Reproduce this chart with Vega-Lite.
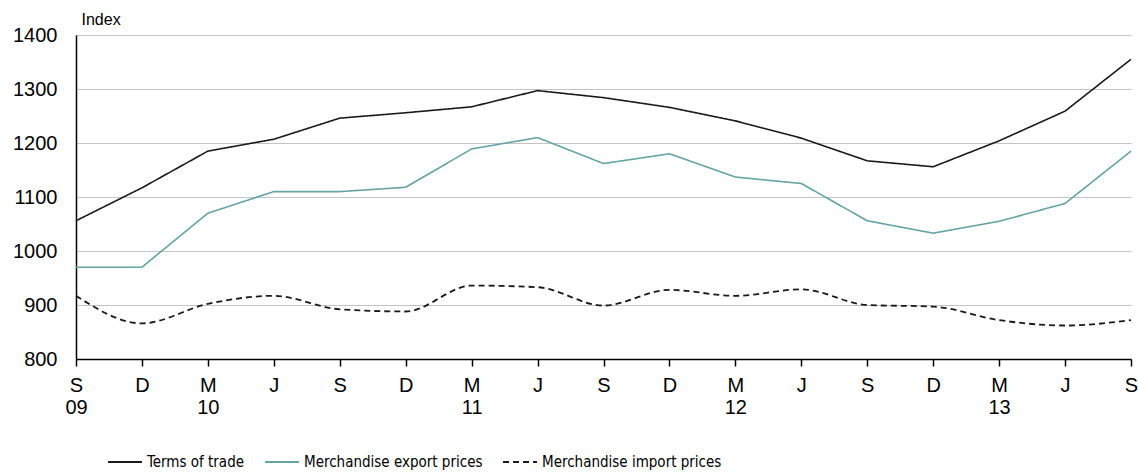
{
  "$schema": "https://vega.github.io/schema/vega-lite/v6.json",
  "width": 1055,
  "height": 324,
  "autosize": "none",
  "padding": {"left": 76, "top": 35, "right": 7, "bottom": 116},
  "background": "white",
  "config": {
    "view": {"stroke": null},
    "font": "Liberation Sans"
  },
  "data": {
    "values": [
      {"date": "2009-09", "series": "Terms of trade", "value": 1056},
      {"date": "2009-12", "series": "Terms of trade", "value": 1117},
      {"date": "2010-03", "series": "Terms of trade", "value": 1185},
      {"date": "2010-06", "series": "Terms of trade", "value": 1207},
      {"date": "2010-09", "series": "Terms of trade", "value": 1246},
      {"date": "2010-12", "series": "Terms of trade", "value": 1256},
      {"date": "2011-03", "series": "Terms of trade", "value": 1267},
      {"date": "2011-06", "series": "Terms of trade", "value": 1297},
      {"date": "2011-09", "series": "Terms of trade", "value": 1284},
      {"date": "2011-12", "series": "Terms of trade", "value": 1266},
      {"date": "2012-03", "series": "Terms of trade", "value": 1241},
      {"date": "2012-06", "series": "Terms of trade", "value": 1209},
      {"date": "2012-09", "series": "Terms of trade", "value": 1167},
      {"date": "2012-12", "series": "Terms of trade", "value": 1156},
      {"date": "2013-03", "series": "Terms of trade", "value": 1204},
      {"date": "2013-06", "series": "Terms of trade", "value": 1259},
      {"date": "2013-09", "series": "Terms of trade", "value": 1355},
      {"date": "2009-09", "series": "Merchandise export prices", "value": 970},
      {"date": "2009-12", "series": "Merchandise export prices", "value": 970},
      {"date": "2010-03", "series": "Merchandise export prices", "value": 1070},
      {"date": "2010-06", "series": "Merchandise export prices", "value": 1110},
      {"date": "2010-09", "series": "Merchandise export prices", "value": 1110},
      {"date": "2010-12", "series": "Merchandise export prices", "value": 1118},
      {"date": "2011-03", "series": "Merchandise export prices", "value": 1189},
      {"date": "2011-06", "series": "Merchandise export prices", "value": 1210},
      {"date": "2011-09", "series": "Merchandise export prices", "value": 1162},
      {"date": "2011-12", "series": "Merchandise export prices", "value": 1180},
      {"date": "2012-03", "series": "Merchandise export prices", "value": 1137},
      {"date": "2012-06", "series": "Merchandise export prices", "value": 1125},
      {"date": "2012-09", "series": "Merchandise export prices", "value": 1056},
      {"date": "2012-12", "series": "Merchandise export prices", "value": 1033},
      {"date": "2013-03", "series": "Merchandise export prices", "value": 1055},
      {"date": "2013-06", "series": "Merchandise export prices", "value": 1088},
      {"date": "2013-09", "series": "Merchandise export prices", "value": 1185},
      {"date": "2009-09", "series": "Merchandise import prices", "value": 917},
      {"date": "2009-12", "series": "Merchandise import prices", "value": 866},
      {"date": "2010-03", "series": "Merchandise import prices", "value": 902},
      {"date": "2010-06", "series": "Merchandise import prices", "value": 917},
      {"date": "2010-09", "series": "Merchandise import prices", "value": 892},
      {"date": "2010-12", "series": "Merchandise import prices", "value": 888},
      {"date": "2011-03", "series": "Merchandise import prices", "value": 936},
      {"date": "2011-06", "series": "Merchandise import prices", "value": 933},
      {"date": "2011-09", "series": "Merchandise import prices", "value": 899},
      {"date": "2011-12", "series": "Merchandise import prices", "value": 928},
      {"date": "2012-03", "series": "Merchandise import prices", "value": 917},
      {"date": "2012-06", "series": "Merchandise import prices", "value": 929},
      {"date": "2012-09", "series": "Merchandise import prices", "value": 900},
      {"date": "2012-12", "series": "Merchandise import prices", "value": 897},
      {"date": "2013-03", "series": "Merchandise import prices", "value": 872},
      {"date": "2013-06", "series": "Merchandise import prices", "value": 862},
      {"date": "2013-09", "series": "Merchandise import prices", "value": 872}
    ]
  },
  "encoding": {
    "x": {
      "field": "date",
      "type": "ordinal",
      "scale": {"type": "point", "padding": 0},
      "axis": {
        "title": null,
        "labelAngle": 0,
        "labelAlign": "center",
        "labelBaseline": "top",
        "labelFontSize": 20,
        "labelColor": "black",
        "labelPadding": 9,
        "labelLineHeight": 22,
        "domainColor": "black",
        "domainWidth": 1.5,
        "tickColor": "black",
        "tickWidth": 1.5,
        "tickSize": 7,
        "grid": false,
        "labelExpr": "[slice(datum.value,5)=='03'?'M':slice(datum.value,5)=='06'?'J':slice(datum.value,5)=='09'?'S':'D', (slice(datum.value,5)=='03' || datum.value=='2009-09') ? slice(datum.value,2,4) : '']"
      }
    },
    "y": {
      "field": "value",
      "type": "quantitative",
      "scale": {"domain": [800, 1400], "nice": false, "zero": false},
      "axis": {
        "values": [800, 900, 1000, 1100, 1200, 1300, 1400],
        "format": "d",
        "title": "Index",
        "titleAngle": 0,
        "titleAlign": "left",
        "titleBaseline": "alphabetic",
        "titleX": 5,
        "titleY": -11,
        "titleFontSize": 16,
        "titleFontWeight": "normal",
        "titleColor": "black",
        "labelFontSize": 20,
        "labelColor": "black",
        "labelPadding": 19,
        "ticks": false,
        "domainColor": "black",
        "domainWidth": 1.5,
        "gridColor": "#c4c4c4",
        "gridWidth": 1.2
      }
    },
    "color": {
      "field": "series",
      "type": "nominal",
      "sort": ["Terms of trade", "Merchandise export prices", "Merchandise import prices"],
      "scale": {
        "domain": ["Terms of trade", "Merchandise export prices", "Merchandise import prices"],
        "range": ["#1a1a1a", "#66a3a3", "#1a1a1a"]
      },
      "legend": {
        "title": null,
        "orient": "none",
        "legendX": 31,
        "legendY": 409,
        "direction": "horizontal",
        "columns": 3,
        "symbolType": "stroke",
        "symbolSize": 1150,
        "symbolStrokeWidth": 1.8,
        "labelFontSize": 15,
        "labelLimit": 0,
        "labelFont": "Liberation Sans Narrow, DejaVu Sans Condensed, Liberation Sans",
        "labelColor": "black",
        "labelOffset": 4,
        "columnPadding": 16
      }
    },
    "strokeDash": {
      "field": "series",
      "type": "nominal",
      "sort": ["Terms of trade", "Merchandise export prices", "Merchandise import prices"],
      "scale": {
        "domain": ["Terms of trade", "Merchandise export prices", "Merchandise import prices"],
        "range": [[1, 0], [1, 0], [6, 4]]
      },
      "legend": null
    }
  },
  "layer": [
    {
      "transform": [{"filter": "datum.series != 'Merchandise import prices'"}],
      "mark": {"type": "line", "strokeWidth": 1.6, "interpolate": "linear"}
    },
    {
      "transform": [{"filter": "datum.series == 'Merchandise import prices'"}],
      "mark": {"type": "line", "strokeWidth": 1.8, "interpolate": "monotone"}
    }
  ]
}
